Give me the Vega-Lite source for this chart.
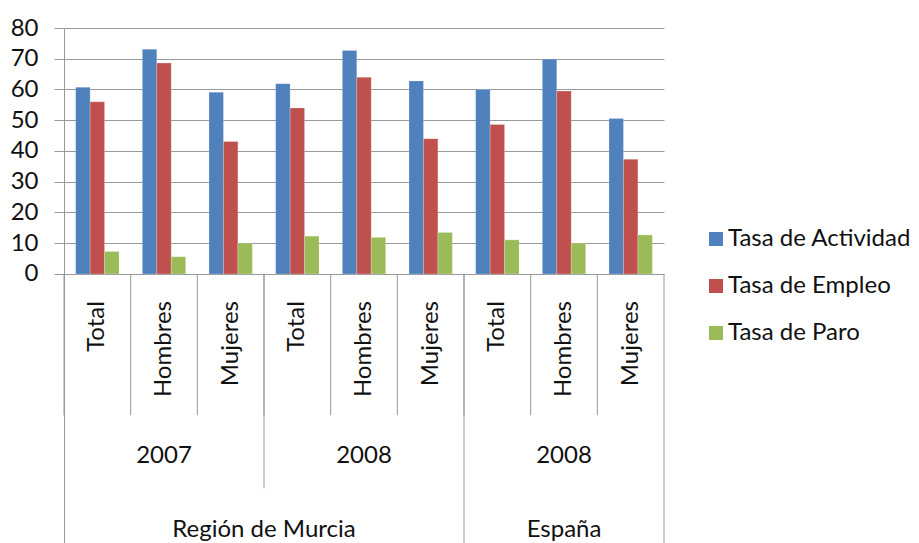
{
  "$schema": "https://vega.github.io/schema/vega-lite/v6.json",
  "width": 600,
  "height": 515,
  "autosize": {"type": "none"},
  "padding": {"left": 64, "top": 28, "right": 255, "bottom": 0},
  "background": "white",
  "config": {
    "view": {"stroke": null},
    "font": "Lato",
    "text": {"font": "Lato", "fontSize": 24, "color": "#111111"}
  },
  "data": {
    "values": [
      {"cat": "M2007 Total", "region": "Región de Murcia", "year": "2007", "sub": "Total", "series": "Tasa de Actividad", "value": 60.7},
      {"cat": "M2007 Total", "region": "Región de Murcia", "year": "2007", "sub": "Total", "series": "Tasa de Empleo", "value": 56.0},
      {"cat": "M2007 Total", "region": "Región de Murcia", "year": "2007", "sub": "Total", "series": "Tasa de Paro", "value": 7.3},
      {"cat": "M2007 Hombres", "region": "Región de Murcia", "year": "2007", "sub": "Hombres", "series": "Tasa de Actividad", "value": 73.1},
      {"cat": "M2007 Hombres", "region": "Región de Murcia", "year": "2007", "sub": "Hombres", "series": "Tasa de Empleo", "value": 68.6},
      {"cat": "M2007 Hombres", "region": "Región de Murcia", "year": "2007", "sub": "Hombres", "series": "Tasa de Paro", "value": 5.6},
      {"cat": "M2007 Mujeres", "region": "Región de Murcia", "year": "2007", "sub": "Mujeres", "series": "Tasa de Actividad", "value": 59.1},
      {"cat": "M2007 Mujeres", "region": "Región de Murcia", "year": "2007", "sub": "Mujeres", "series": "Tasa de Empleo", "value": 43.1},
      {"cat": "M2007 Mujeres", "region": "Región de Murcia", "year": "2007", "sub": "Mujeres", "series": "Tasa de Paro", "value": 10.0},
      {"cat": "M2008 Total", "region": "Región de Murcia", "year": "2008", "sub": "Total", "series": "Tasa de Actividad", "value": 61.9},
      {"cat": "M2008 Total", "region": "Región de Murcia", "year": "2008", "sub": "Total", "series": "Tasa de Empleo", "value": 54.0},
      {"cat": "M2008 Total", "region": "Región de Murcia", "year": "2008", "sub": "Total", "series": "Tasa de Paro", "value": 12.3},
      {"cat": "M2008 Hombres", "region": "Región de Murcia", "year": "2008", "sub": "Hombres", "series": "Tasa de Actividad", "value": 72.7},
      {"cat": "M2008 Hombres", "region": "Región de Murcia", "year": "2008", "sub": "Hombres", "series": "Tasa de Empleo", "value": 64.0},
      {"cat": "M2008 Hombres", "region": "Región de Murcia", "year": "2008", "sub": "Hombres", "series": "Tasa de Paro", "value": 11.9},
      {"cat": "M2008 Mujeres", "region": "Región de Murcia", "year": "2008", "sub": "Mujeres", "series": "Tasa de Actividad", "value": 62.8},
      {"cat": "M2008 Mujeres", "region": "Región de Murcia", "year": "2008", "sub": "Mujeres", "series": "Tasa de Empleo", "value": 44.0},
      {"cat": "M2008 Mujeres", "region": "Región de Murcia", "year": "2008", "sub": "Mujeres", "series": "Tasa de Paro", "value": 13.5},
      {"cat": "E2008 Total", "region": "España", "year": "2008", "sub": "Total", "series": "Tasa de Actividad", "value": 60.0},
      {"cat": "E2008 Total", "region": "España", "year": "2008", "sub": "Total", "series": "Tasa de Empleo", "value": 48.6},
      {"cat": "E2008 Total", "region": "España", "year": "2008", "sub": "Total", "series": "Tasa de Paro", "value": 11.1},
      {"cat": "E2008 Hombres", "region": "España", "year": "2008", "sub": "Hombres", "series": "Tasa de Actividad", "value": 69.9},
      {"cat": "E2008 Hombres", "region": "España", "year": "2008", "sub": "Hombres", "series": "Tasa de Empleo", "value": 59.5},
      {"cat": "E2008 Hombres", "region": "España", "year": "2008", "sub": "Hombres", "series": "Tasa de Paro", "value": 10.0},
      {"cat": "E2008 Mujeres", "region": "España", "year": "2008", "sub": "Mujeres", "series": "Tasa de Actividad", "value": 50.6},
      {"cat": "E2008 Mujeres", "region": "España", "year": "2008", "sub": "Mujeres", "series": "Tasa de Empleo", "value": 37.3},
      {"cat": "E2008 Mujeres", "region": "España", "year": "2008", "sub": "Mujeres", "series": "Tasa de Paro", "value": 12.7}
    ]
  },
  "resolve": {"scale": {"x": "independent"}},
  "layer": [
    {
      "mark": {"type": "bar", "stroke": "#ffffff", "strokeOpacity": 0.35, "strokeWidth": 0.6},
      "encoding": {
        "x": {
          "field": "cat", "type": "nominal",
          "scale": {"domain": ["M2007 Total", "M2007 Hombres", "M2007 Mujeres", "M2008 Total", "M2008 Hombres", "M2008 Mujeres", "E2008 Total", "E2008 Hombres", "E2008 Mujeres"], "paddingInner": 0.35, "paddingOuter": 0.175},
          "axis": null
        },
        "xOffset": {
          "field": "series", "type": "nominal",
          "scale": {"domain": ["Tasa de Actividad", "Tasa de Empleo", "Tasa de Paro"], "paddingInner": 0, "paddingOuter": 0}
        },
        "y": {
          "field": "value", "type": "quantitative",
          "scale": {"domain": [-87.5, 80], "nice": false, "zero": false},
          "axis": {
            "title": null,
            "values": [0, 10, 20, 30, 40, 50, 60, 70, 80],
            "grid": true,
            "gridColor": "#999999",
            "gridWidth": 1,
            "domainColor": "#999999",
            "tickColor": "#999999",
            "tickSize": 10,
            "labelFont": "Lato",
            "labelFontSize": 24,
            "labelColor": "#111111",
            "labelPadding": 16
          }
        },
        "y2": {"datum": 0},
        "color": {
          "field": "series", "type": "nominal",
          "scale": {"domain": ["Tasa de Actividad", "Tasa de Empleo", "Tasa de Paro"], "range": ["#4F81BD", "#C0504D", "#9BBB59"]},
          "legend": {
            "title": null,
            "orient": "none",
            "legendX": 640,
            "legendY": 199,
            "padding": 0,
            "symbolType": "square",
            "symbolSize": 196,
            "symbolStrokeWidth": 0,
            "labelFont": "Lato",
            "labelFontSize": 24,
            "labelColor": "#111111",
            "labelOffset": 0,
            "labelLimit": 400,
            "rowPadding": 23
          }
        }
      }
    },
    {
      "transform": [{"filter": "datum.series === 'Tasa de Actividad'"}],
      "encoding": {
        "x": {
          "field": "cat", "type": "nominal",
          "scale": {"domain": ["M2007 Total", "M2007 Hombres", "M2007 Mujeres", "M2008 Total", "M2008 Hombres", "M2008 Mujeres", "E2008 Total", "E2008 Hombres", "E2008 Mujeres"], "paddingInner": 0, "paddingOuter": 0},
          "axis": null
        }
      },
      "layer": [
        {
          "mark": {"type": "rule", "color": "#999999", "strokeWidth": 1},
          "encoding": {
            "x": {"field": "cat", "type": "nominal", "bandPosition": 0},
            "y": {"datum": 0},
            "y2": {"datum": -46}
          }
        },
        {
          "transform": [{"filter": "datum.sub === 'Total' && datum.region === 'Región de Murcia' && datum.year === '2008'"}],
          "mark": {"type": "rule", "color": "#999999", "strokeWidth": 1},
          "encoding": {
            "x": {"field": "cat", "type": "nominal", "bandPosition": 0},
            "y": {"datum": 0},
            "y2": {"datum": -69.7}
          }
        },
        {
          "transform": [{"filter": "datum.sub === 'Total' && datum.region === 'España'"}],
          "mark": {"type": "rule", "color": "#999999", "strokeWidth": 1},
          "encoding": {
            "x": {"field": "cat", "type": "nominal", "bandPosition": 0},
            "y": {"datum": 0},
            "y2": {"datum": -87.5}
          }
        },
        {
          "transform": [{"filter": "datum.sub === 'Mujeres' && datum.region === 'España'"}],
          "mark": {"type": "rule", "color": "#999999", "strokeWidth": 1},
          "encoding": {
            "x": {"field": "cat", "type": "nominal", "bandPosition": 1},
            "y": {"datum": 0},
            "y2": {"datum": -87.5}
          }
        },
        {
          "mark": {"type": "text", "angle": 270, "align": "right", "baseline": "middle"},
          "encoding": {
            "x": {"field": "cat", "type": "nominal", "bandPosition": 0.5},
            "y": {"datum": -8.8},
            "text": {"field": "sub"}
          }
        },
        {
          "transform": [{"filter": "datum.sub === 'Hombres'"}],
          "mark": {"type": "text", "align": "center", "baseline": "middle"},
          "encoding": {
            "x": {"field": "cat", "type": "nominal", "bandPosition": 0.5},
            "y": {"datum": -59.2},
            "text": {"field": "year"}
          }
        },
        {
          "transform": [{"filter": "datum.sub === 'Total' && datum.region === 'Región de Murcia' && datum.year === '2008'"}],
          "mark": {"type": "text", "align": "center", "baseline": "middle"},
          "encoding": {
            "x": {"field": "cat", "type": "nominal", "bandPosition": 0},
            "y": {"datum": -83.4},
            "text": {"field": "region"}
          }
        },
        {
          "transform": [{"filter": "datum.sub === 'Hombres' && datum.region === 'España'"}],
          "mark": {"type": "text", "align": "center", "baseline": "middle"},
          "encoding": {
            "x": {"field": "cat", "type": "nominal", "bandPosition": 0.5},
            "y": {"datum": -83.4},
            "text": {"field": "region"}
          }
        }
      ]
    }
  ]
}
